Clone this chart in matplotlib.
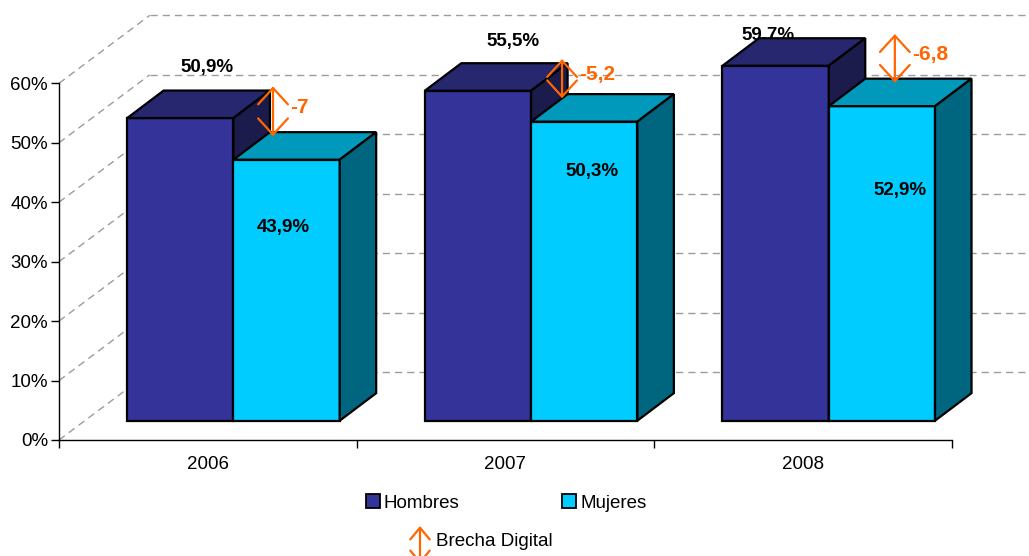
import numpy as np
import matplotlib
matplotlib.use('Agg')
import matplotlib.pyplot as plt
from matplotlib.patches import Polygon, Patch, ArrowStyle

plt.rcParams['font.family'] = ['Liberation Sans', 'DejaVu Sans']

# data
years = ['2006', '2007', '2008']
hombres = [50.9, 55.5, 59.7]
mujeres = [43.9, 50.3, 52.9]
y_ticks = [0, 10, 20, 30, 40, 50, 60]

# colours
c_h_front, c_h_top, c_h_side = '#333399', '#272770', '#1c1c4c'
c_m_front, c_m_top, c_m_side = '#00ccff', '#0099bb', '#006680'
orange = '#ff6600'

# fake 3d geometry (data units)
wall_dx, wall_dy = 0.305, 11.43   # depth of the back wall
ox, oy = 0.086, 3.25              # bars sit a bit inside the box
bdx, bdy = 0.1226, 4.63           # depth of each bar
w = 0.357
edge_lw = 1.6

# hand placed labels in the original, nudges relative to the bars
h_lab_dx = [0.09, 0.117, -0.027]
h_lab_dy = [11.8, 11.6, 8.4]
m_lab_dx = [-0.012, 0.026, 0.061]
m_lab_dy = [-8.1, -5.2, -10.9]
arrow_dx = [0.133, 0.104, 0.222]
arrow_ext = 0.7

fig = plt.figure(figsize=(10.29, 5.56), dpi=100)
ax = fig.add_axes([59 / 1029, 116 / 556, 893 / 1029, 356.7 / 556])
ax.set_xlim(0, 3)
ax.set_ylim(0, 60)
ax.patch.set_visible(False)

# back wall grid
grid_kw = dict(color='#9c9c9c', lw=1, ls=(0, (5.2, 3.6)), clip_on=False, zorder=0.5)
for v in y_ticks:
    ax.plot([0, wall_dx], [v, v + wall_dy], **grid_kw)
    ax.plot([wall_dx, 3 + wall_dx], [v + wall_dy, v + wall_dy], **grid_kw)

x = np.arange(len(years))


def draw_3d(xl, vals, front, top, side, z):
    bars = ax.bar(xl + ox, vals, width=w, bottom=oy, align='edge', color=front,
                  edgecolor='black', lw=edge_lw, zorder=z, clip_on=False)
    for b in bars:
        x0, x1 = b.get_x(), b.get_x() + b.get_width()
        y0, y1 = b.get_y(), b.get_y() + b.get_height()
        ax.add_patch(Polygon([(x0, y1), (x0 + bdx, y1 + bdy), (x1 + bdx, y1 + bdy), (x1, y1)],
                             closed=True, fc=top, ec='black', lw=edge_lw, zorder=z, clip_on=False))
        ax.add_patch(Polygon([(x1, y0), (x1, y1), (x1 + bdx, y1 + bdy), (x1 + bdx, y0 + bdy)],
                             closed=True, fc=side, ec='black', lw=edge_lw, zorder=z, clip_on=False))


draw_3d(x + 0.5 - w, hombres, c_h_front, c_h_top, c_h_side, 2)
draw_3d(x + 0.5, mujeres, c_m_front, c_m_top, c_m_side, 3)

# value labels
for i, (h, m) in enumerate(zip(hombres, mujeres)):
    ax.text(i + 0.5 - w / 2 + ox + h_lab_dx[i], h + h_lab_dy[i], f'{h:.1f}%'.replace('.', ','),
            ha='center', va='center', fontsize=13.5, fontweight='bold', zorder=1.5, clip_on=False)
    ax.text(i + 0.5 + w / 2 + ox + m_lab_dx[i], m + m_lab_dy[i], f'{m:.1f}%'.replace('.', ','),
            ha='center', va='center', fontsize=13.5, fontweight='bold', zorder=6)

# brecha digital arrows
gap_style = ArrowStyle('<->', head_length=1.17, head_width=1.07)
for i, (h, m) in enumerate(zip(hombres, mujeres)):
    g = round(m - h, 1)
    xa = i + 0.5 + ox + arrow_dx[i]
    y_top, y_bot = h + oy + bdy + arrow_ext, m + oy + bdy - arrow_ext
    ax.annotate('', xy=(xa, y_top), xytext=(xa, y_bot), annotation_clip=False,
                arrowprops=dict(arrowstyle=gap_style, color=orange, lw=1.6,
                                shrinkA=0, shrinkB=0, mutation_scale=10), zorder=6)
    ax.annotate(f'{g:g}'.replace('.', ','), xy=(xa, (y_top + y_bot) / 2), xytext=(12.5, 3),
                textcoords='offset points', ha='left', va='center', color=orange,
                fontsize=15, fontweight='bold', annotation_clip=False, zorder=6)

# axes
ax.set_yticks(y_ticks)
ax.set_yticklabels([f'{v}%' for v in y_ticks])
ax.set_xticks(x + 0.5)
ax.set_xticklabels(years)
ax.set_xticks(np.arange(len(years) + 1), minor=True)
ax.tick_params(axis='x', which='major', length=0, pad=11.5, labelsize=13.5)
ax.tick_params(axis='x', which='minor', length=6, width=1, direction='out')
ax.tick_params(axis='y', length=6, width=1, pad=2, labelsize=13.5)
for s in ['top', 'right']:
    ax.spines[s].set_visible(False)
for s in ['left', 'bottom']:
    ax.spines[s].set_linewidth(1)

# legend
handles = [Patch(fc=c_h_front, ec='black', lw=1.3), Patch(fc=c_m_front, ec='black', lw=1.3)]
fig.legend(handles, ['Hombres', 'Mujeres'], ncol=2, loc='center',
           bbox_to_anchor=(506 / 1029, 1 - 503 / 556), frameon=False, fontsize=13.5,
           handlelength=0.75, handleheight=0.75, handletextpad=0.2, columnspacing=5.5,
           borderpad=0, borderaxespad=0)
fig.text(436 / 1029, 1 - 542 / 556, 'Brecha Digital', ha='left', va='center', fontsize=13.5)
ax.annotate('', xy=(420, 30), xytext=(420, -8), xycoords='figure pixels',
            textcoords='figure pixels', annotation_clip=False,
            arrowprops=dict(arrowstyle=ArrowStyle('<->', head_length=0.84, head_width=0.7),
                            color=orange, lw=1.6, shrinkA=0, shrinkB=0, mutation_scale=10))

fig.savefig('out.png', dpi=100)
